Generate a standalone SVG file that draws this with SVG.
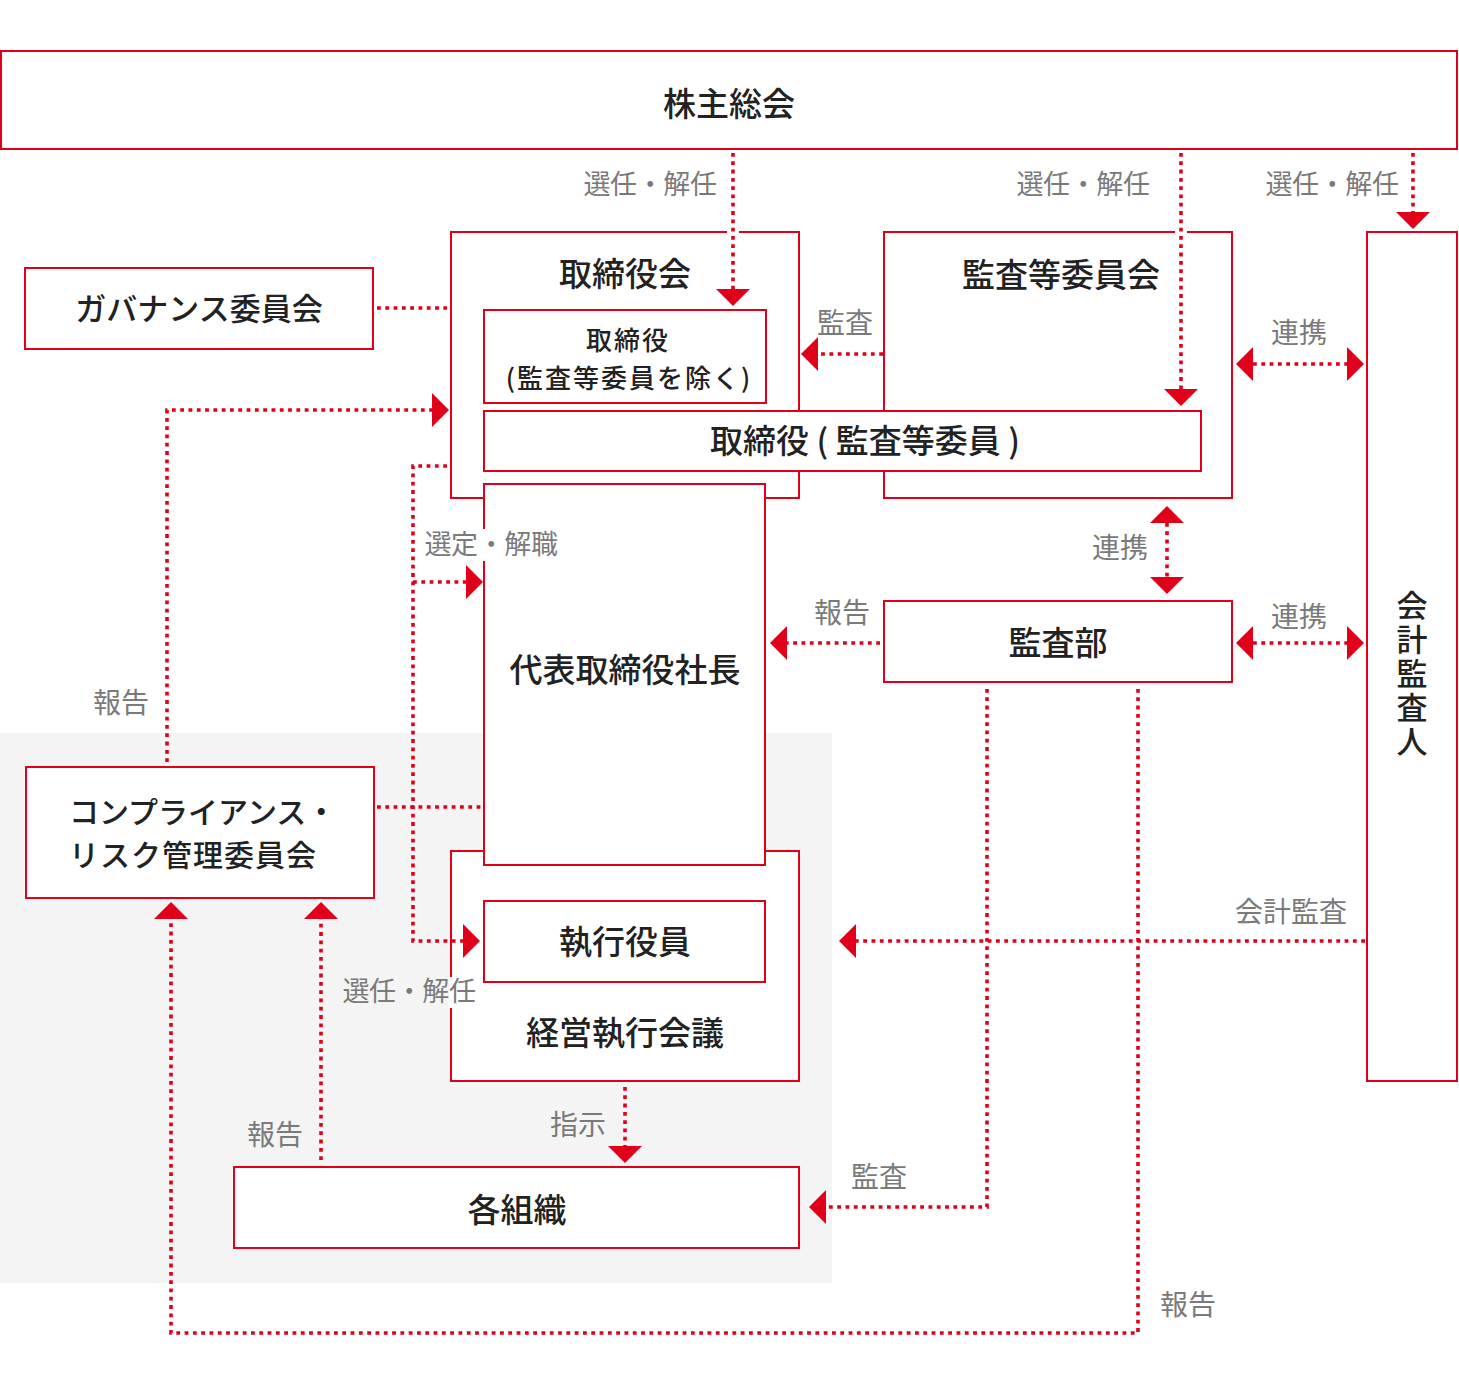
<svg xmlns="http://www.w3.org/2000/svg" width="1459" height="1384" viewBox="0 0 1459 1384">
<style>
.b{fill:#fff;stroke:#e00019;stroke-width:2}
.n{font-family:"Noto Sans CJK JP","Noto Sans",sans-serif;font-size:33px;font-weight:500;fill:#222;text-anchor:middle;dominant-baseline:central}
.s{font-size:26px;letter-spacing:2px}
.k{font-size:31px}
.l{font-family:"Noto Sans CJK JP","Noto Sans",sans-serif;font-size:28px;font-weight:400;fill:#7a7a7a;text-anchor:middle;dominant-baseline:central}
.d{font-size:27px;letter-spacing:-0.4px}
.c{fill:none;stroke:#e00019;stroke-width:3.6;stroke-dasharray:3.8 4.5}
.ko{fill:#fff}
</style>
<defs>
<marker id="ah" markerUnits="userSpaceOnUse" markerWidth="17" markerHeight="34" viewBox="0 0 17 34" refX="0" refY="17" orient="auto-start-reverse">
<path d="M0,0 L17,17 L0,34 z" fill="#e00019"/>
</marker>
</defs>
<rect x="0" y="733" width="832" height="550" fill="#f4f4f4"/>

<g id="kabunushi"><rect class="b" x="1" y="51" width="1456" height="98"/><text class="n" x="729" y="102">株主総会</text></g>
<g id="torishimariyakukai"><rect class="b" x="451" y="232" width="348" height="266"/><text class="n" x="625" y="272">取締役会</text></g>
<g id="kansatou"><rect class="b" x="884" y="232" width="348" height="266"/><text class="n" x="1061" y="273">監査等委員会</text></g>
<g id="kaikei"><rect class="b" x="1367" y="232" width="90" height="849"/><text class="n k" x="1412" y="675" style="writing-mode:vertical-rl;letter-spacing:3px">会計監査人</text></g>
<g id="governance"><rect class="b" x="25" y="268" width="348" height="81"/><text class="n k" x="199" y="306">ガバナンス委員会</text></g>
<g id="torishimariyaku1"><rect class="b" x="484" y="310" width="282" height="93"/><text class="n s" x="628" y="338">取締役</text><text class="n s" x="629" y="376">(監査等委員を除く)</text></g>
<g id="keiei"><rect class="b" x="451" y="851" width="348" height="230"/><text class="n" x="625" y="1031">経営執行会議</text></g>
<g id="shikkou"><rect class="b" x="484" y="901" width="281" height="81"/><text class="n" x="625" y="940">執行役員</text></g>
<g id="shachou"><rect class="b" x="484" y="484" width="281" height="381"/><text class="n" x="625" y="668">代表取締役社長</text></g>
<g id="torishimariyaku2"><rect class="b" x="484" y="411" width="717" height="60"/><text class="n" x="865" y="439">取締役 ( 監査等委員 )</text></g>
<g id="kansabu"><rect class="b" x="884" y="601" width="348" height="81"/><text class="n" x="1058" y="641">監査部</text></g>
<g id="compliance"><rect class="b" x="26" y="767" width="348" height="131"/><text class="n" x="69" y="810" style="text-anchor:start;font-size:30px">コンプライアンス・</text><text class="n" x="69" y="853" style="text-anchor:start;font-size:30px;letter-spacing:1px">リスク管理委員会</text></g>
<g id="kakusoshiki"><rect class="b" x="234" y="1167" width="565" height="81"/><text class="n" x="517" y="1208">各組織</text></g>

<g id="connectors">
<rect class="ko" x="727" y="229" width="12" height="6"/>
<rect class="ko" x="1175" y="229" width="12" height="6"/>
<rect class="ko" x="421" y="529" width="140" height="32"/>
<rect class="ko" x="449" y="977" width="4" height="31"/>
<path class="c" d="M733,153 V289" marker-end="url(#ah)"/>
<path class="c" d="M1181,153 V389" marker-end="url(#ah)"/>
<path class="c" d="M1413,153 V212" marker-end="url(#ah)"/>
<path class="c" d="M883,354 H818" marker-end="url(#ah)"/>
<path class="c" d="M1253,364 H1347" marker-start="url(#ah)" marker-end="url(#ah)"/>
<path class="c" d="M1167,523 V577" marker-start="url(#ah)" marker-end="url(#ah)"/>
<path class="c" d="M1253,643 H1347" marker-start="url(#ah)" marker-end="url(#ah)"/>
<path class="c" d="M880,643 H787" marker-end="url(#ah)"/>
<path class="c" d="M1365,941 H856" marker-end="url(#ah)"/>
<path class="c" d="M987,689 V1207 H826" marker-end="url(#ah)"/>
<path class="c" d="M1138,689 V1333 H171 V919" marker-end="url(#ah)"/>
<path class="c" d="M321,1160 V919" marker-end="url(#ah)"/>
<path class="c" d="M625,1087 V1146" marker-end="url(#ah)"/>
<path class="c" d="M167,762 V410 H432" marker-end="url(#ah)"/>
<path class="c" d="M447,466 H413 V941 H463" marker-end="url(#ah)"/>
<path class="c" d="M413,582 H466" marker-end="url(#ah)"/>
<path class="c" d="M377,308 H447"/>
<path class="c" d="M377,807 H482"/>
<text class="l d" x="650" y="182">選任・解任</text>
<text class="l d" x="1083" y="182">選任・解任</text>
<text class="l d" x="1332" y="182">選任・解任</text>
<text class="l" x="845" y="321">監査</text>
<text class="l" x="1299" y="331">連携</text>
<text class="l" x="1120" y="546">連携</text>
<text class="l" x="842" y="611">報告</text>
<text class="l" x="1299" y="615">連携</text>
<text class="l d" x="491" y="542">選定・解職</text>
<text class="l" x="121" y="701">報告</text>
<text class="l" x="1291" y="910">会計監査</text>
<text class="l d" x="409" y="989">選任・解任</text>
<text class="l" x="578" y="1123">指示</text>
<text class="l" x="275" y="1133">報告</text>
<text class="l" x="879" y="1175">監査</text>
<text class="l" x="1188" y="1303">報告</text>
</g>
</svg>
